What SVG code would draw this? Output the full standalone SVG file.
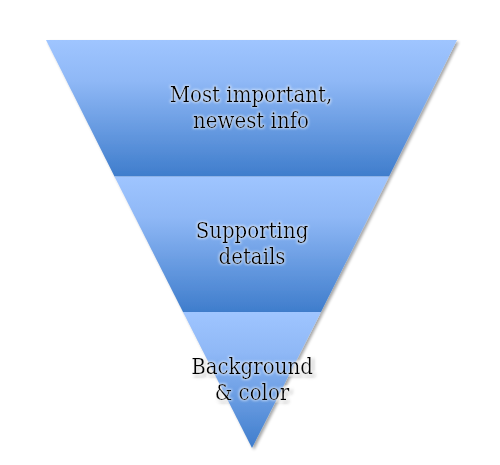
<svg xmlns="http://www.w3.org/2000/svg" width="500" height="465" viewBox="0 0 500 465">
  <style>
    .lbl { font-family: "DejaVu Serif Condensed", "DejaVu Serif", "Liberation Serif", serif; font-stretch: condensed; font-size: 22px; fill: #000; text-anchor: middle; }
  </style>
  <defs>
    <linearGradient id="band" x1="0" y1="0" x2="0" y2="1">
      <stop offset="0" stop-color="#9fc5ff"/>
      <stop offset="0.3" stop-color="#8fb8f6"/>
      <stop offset="1" stop-color="#3f7dcc"/>
    </linearGradient>
    <filter id="shadow" x="-10%" y="-10%" width="120%" height="120%">
      <feGaussianBlur in="SourceAlpha" stdDeviation="1.5"/>
      <feOffset dx="2" dy="2" result="b"/>
      <feComponentTransfer><feFuncA type="linear" slope="0.35"/></feComponentTransfer>
      <feMerge><feMergeNode/><feMergeNode in="SourceGraphic"/></feMerge>
    </filter>
    <filter id="glow" x="-10%" y="-20%" width="120%" height="140%">
      <feMorphology in="SourceAlpha" operator="dilate" radius="0.8" result="d"/>
      <feGaussianBlur in="d" stdDeviation="1.2" result="g"/>
      <feFlood flood-color="#ffffff" flood-opacity="0.5"/>
      <feComposite in2="g" operator="in"/>
      <feMerge><feMergeNode/><feMergeNode in="SourceGraphic"/></feMerge>
    </filter>
  </defs>
  <g id="band-top" filter="url(#shadow)">
    <polygon points="46,40 457,40 389,176.5 114.5,176.5" fill="url(#band)"/>
    <text class="lbl" filter="url(#glow)"><tspan x="251" y="101.5">Most important,</tspan><tspan x="251" y="127.5">newest info</tspan></text>
  </g>
  <g id="band-middle" filter="url(#shadow)">
    <polygon points="114.5,176.5 389,176.5 321,312 183,312" fill="url(#band)"/>
    <text class="lbl" filter="url(#glow)"><tspan x="252" y="238">Supporting</tspan><tspan x="252" y="264">details</tspan></text>
  </g>
  <g id="band-bottom" filter="url(#shadow)">
    <polygon points="183,312 321,312 252,448" fill="url(#band)"/>
    <text class="lbl" filter="url(#glow)"><tspan x="252" y="373.5">Background</tspan><tspan x="252" y="399.5">&amp; color</tspan></text>
  </g>
  <g id="connectors"/>
</svg>
